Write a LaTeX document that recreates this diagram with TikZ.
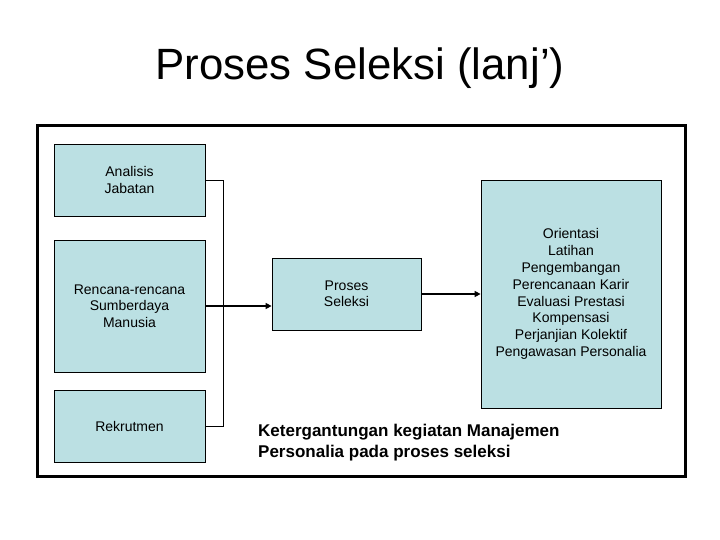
\documentclass[tikz,border=0pt]{standalone}
\usepackage{fontspec}
\setmainfont{Liberation Sans}
\usetikzlibrary{arrows.meta}
\definecolor{boxfill}{RGB}{187,224,227}
\begin{document}
\begin{tikzpicture}[x=1pt,y=-1pt,
  box/.style={draw=black,line width=0.8pt,fill=boxfill,inner sep=0pt,align=center,font=\fontsize{14}{16.5}\selectfont},
  conn/.style={line width=0.9pt},
  arr/.style={line width=2pt,-{Triangle[length=6pt,width=6pt]}}]
\useasboundingbox (0,0) rectangle (720,540);
\node[font=\fontsize{43.8}{48}\selectfont,anchor=base,inner sep=0pt] (title) at (360,80) {Proses Seleksi (lanj’)};
\draw[line width=3pt] (37,126) rectangle (685,476);
\node[box,minimum width=151pt,minimum height=72pt] (aj) at (129.5,180) {Analisis\\Jabatan};
\node[box,minimum width=151pt,minimum height=132pt] (rr) at (129.5,306) {Rencana-rencana\\Sumberdaya\\Manusia};
\node[box,minimum width=151pt,minimum height=72pt] (rk) at (129.5,426) {Rekrutmen};
\node[box,minimum width=149pt,minimum height=72pt] (ps) at (346.5,294) {Proses\\Seleksi};
\node[box,minimum width=180pt,minimum height=228pt,font=\fontsize{14}{16.9}\selectfont] (or) at (571,294) {Orientasi\\Latihan\\Pengembangan\\Perencanaan Karir\\Evaluasi Prestasi\\Kompensasi\\Perjanjian Kolektif\\Pengawasan Personalia};
\coordinate (b1) at (223,180);
\coordinate (b2) at (223,426);
\draw[conn] (aj.east) -- (b1) -- (b2) -- (rk.east);
\draw[arr] (rr.east) -- (rr.east -| ps.west);
\draw[arr] (ps.east) -- (or.west);
\node[anchor=base west,align=left,font=\bfseries\fontsize{17}{20.5}\selectfont,inner sep=0pt] (cap) at (258,457) {Ketergantungan kegiatan Manajemen\\Personalia pada proses seleksi};
\end{tikzpicture}
\end{document}
